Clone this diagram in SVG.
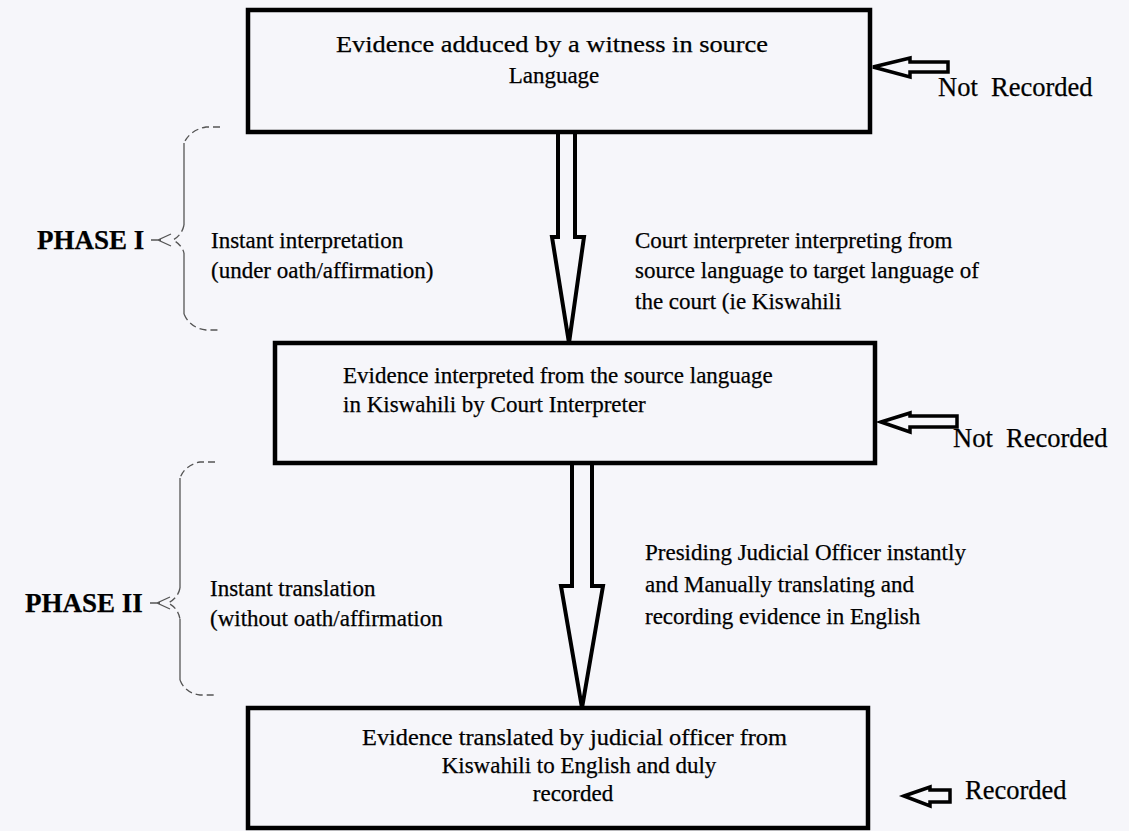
<svg xmlns="http://www.w3.org/2000/svg" width="1129" height="831" viewBox="0 0 1129 831">
<style>
.bg{fill:#f6f6fa}
.box{fill:#f6f6fa;stroke:#000;stroke-width:4.5}
.big{fill:#f6f6fa;stroke:#000;stroke-width:4;stroke-linejoin:miter}
.small{fill:#f6f6fa;stroke:#000;stroke-width:3.5;stroke-linejoin:miter}
.brace{fill:none;stroke:#555;stroke-width:1.3}
.dash{fill:none;stroke:#555;stroke-width:1.3;stroke-dasharray:7 4}
text{font-family:"Liberation Serif","Times New Roman",serif;font-size:23px;fill:#000;stroke:#000;stroke-width:0.25}
.side{font-size:26.5px}
.phase{font-size:27px;font-weight:bold}
</style>
<rect class="bg" x="0" y="0" width="1129" height="831"/>
<g id="connectors">
<polygon class="big" points="558,132 558,237 552,237 569,343 584,237 575,237 575,132"/>
<polygon class="big" points="572,463 572,586 561,586 582,708 603,586 592,586 592,463"/>
<polygon class="small" points="873,67 910,58 910,62 948,62 948,72 910,72 910,77"/>
<polygon class="small" points="881,422 910,413 910,416 957,416 957,427 910,427 910,432"/>
<polygon class="small" points="904,796 930,787 930,790 950,790 950,802 930,802 930,806"/>
</g>
<g id="box1">
<rect class="box" x="248" y="10" width="622" height="122"/>
<text x="336" y="52" font-size="24" textLength="432" lengthAdjust="spacingAndGlyphs">Evidence adduced by a witness in source</text>
<text x="554" y="83" font-size="24" text-anchor="middle">Language</text>
</g>
<g id="box2">
<rect class="box" x="275" y="343" width="600" height="120"/>
<text x="343" y="383">Evidence interpreted from the source language</text>
<text x="343" y="412">in Kiswahili by Court Interpreter</text>
</g>
<g id="box3">
<rect class="box" x="248" y="708" width="620" height="120"/>
<text x="362" y="745" textLength="425" lengthAdjust="spacingAndGlyphs">Evidence translated by judicial officer from</text>
<text x="579" y="773" text-anchor="middle">Kiswahili to English and duly</text>
<text x="573" y="801" text-anchor="middle">recorded</text>
</g>
<g id="label-not-recorded-1"><text class="side" x="938" y="96" xml:space="preserve">Not  Recorded</text></g>
<g id="label-not-recorded-2"><text class="side" x="953" y="447" xml:space="preserve">Not  Recorded</text></g>
<g id="label-recorded"><text class="side" x="965" y="799">Recorded</text></g>
<g id="phase1">
<text class="phase" x="37" y="249">PHASE I</text>
<path class="brace" d="M151,240 H161 M171,234 L158,240 L171,246"/>
<path class="dash" d="M220,127 H206 Q190,130 184,143"/>
<path class="brace" d="M184,143 V225"/>
<path class="dash" d="M184,225 Q182,235 173,240 Q182,245 184,253"/>
<path class="brace" d="M184,253 V314"/>
<path class="dash" d="M184,314 Q190,328 206,330 H220"/>
<text x="211" y="248">Instant interpretation</text>
<text x="211" y="278">(under oath/affirmation)</text>
<text x="635" y="248">Court interpreter interpreting from</text>
<text x="635" y="278">source language to target language of</text>
<text x="635" y="309">the court (ie Kiswahili</text>
</g>
<g id="phase2">
<text class="phase" x="25" y="612">PHASE II</text>
<path class="brace" d="M150,603 H160 M170,597 L157,603 L170,609"/>
<path class="dash" d="M215,462 H200 Q185,465 180,478"/>
<path class="brace" d="M180,478 V588"/>
<path class="dash" d="M180,588 Q178,598 168,603 Q178,608 180,619"/>
<path class="brace" d="M180,619 V680"/>
<path class="dash" d="M180,680 Q185,693 200,695 H215"/>
<text x="210" y="596">Instant translation</text>
<text x="210" y="626">(without oath/affirmation</text>
<text x="645" y="560">Presiding Judicial Officer instantly</text>
<text x="645" y="592">and Manually translating and</text>
<text x="645" y="624">recording evidence in English</text>
</g>
</svg>
